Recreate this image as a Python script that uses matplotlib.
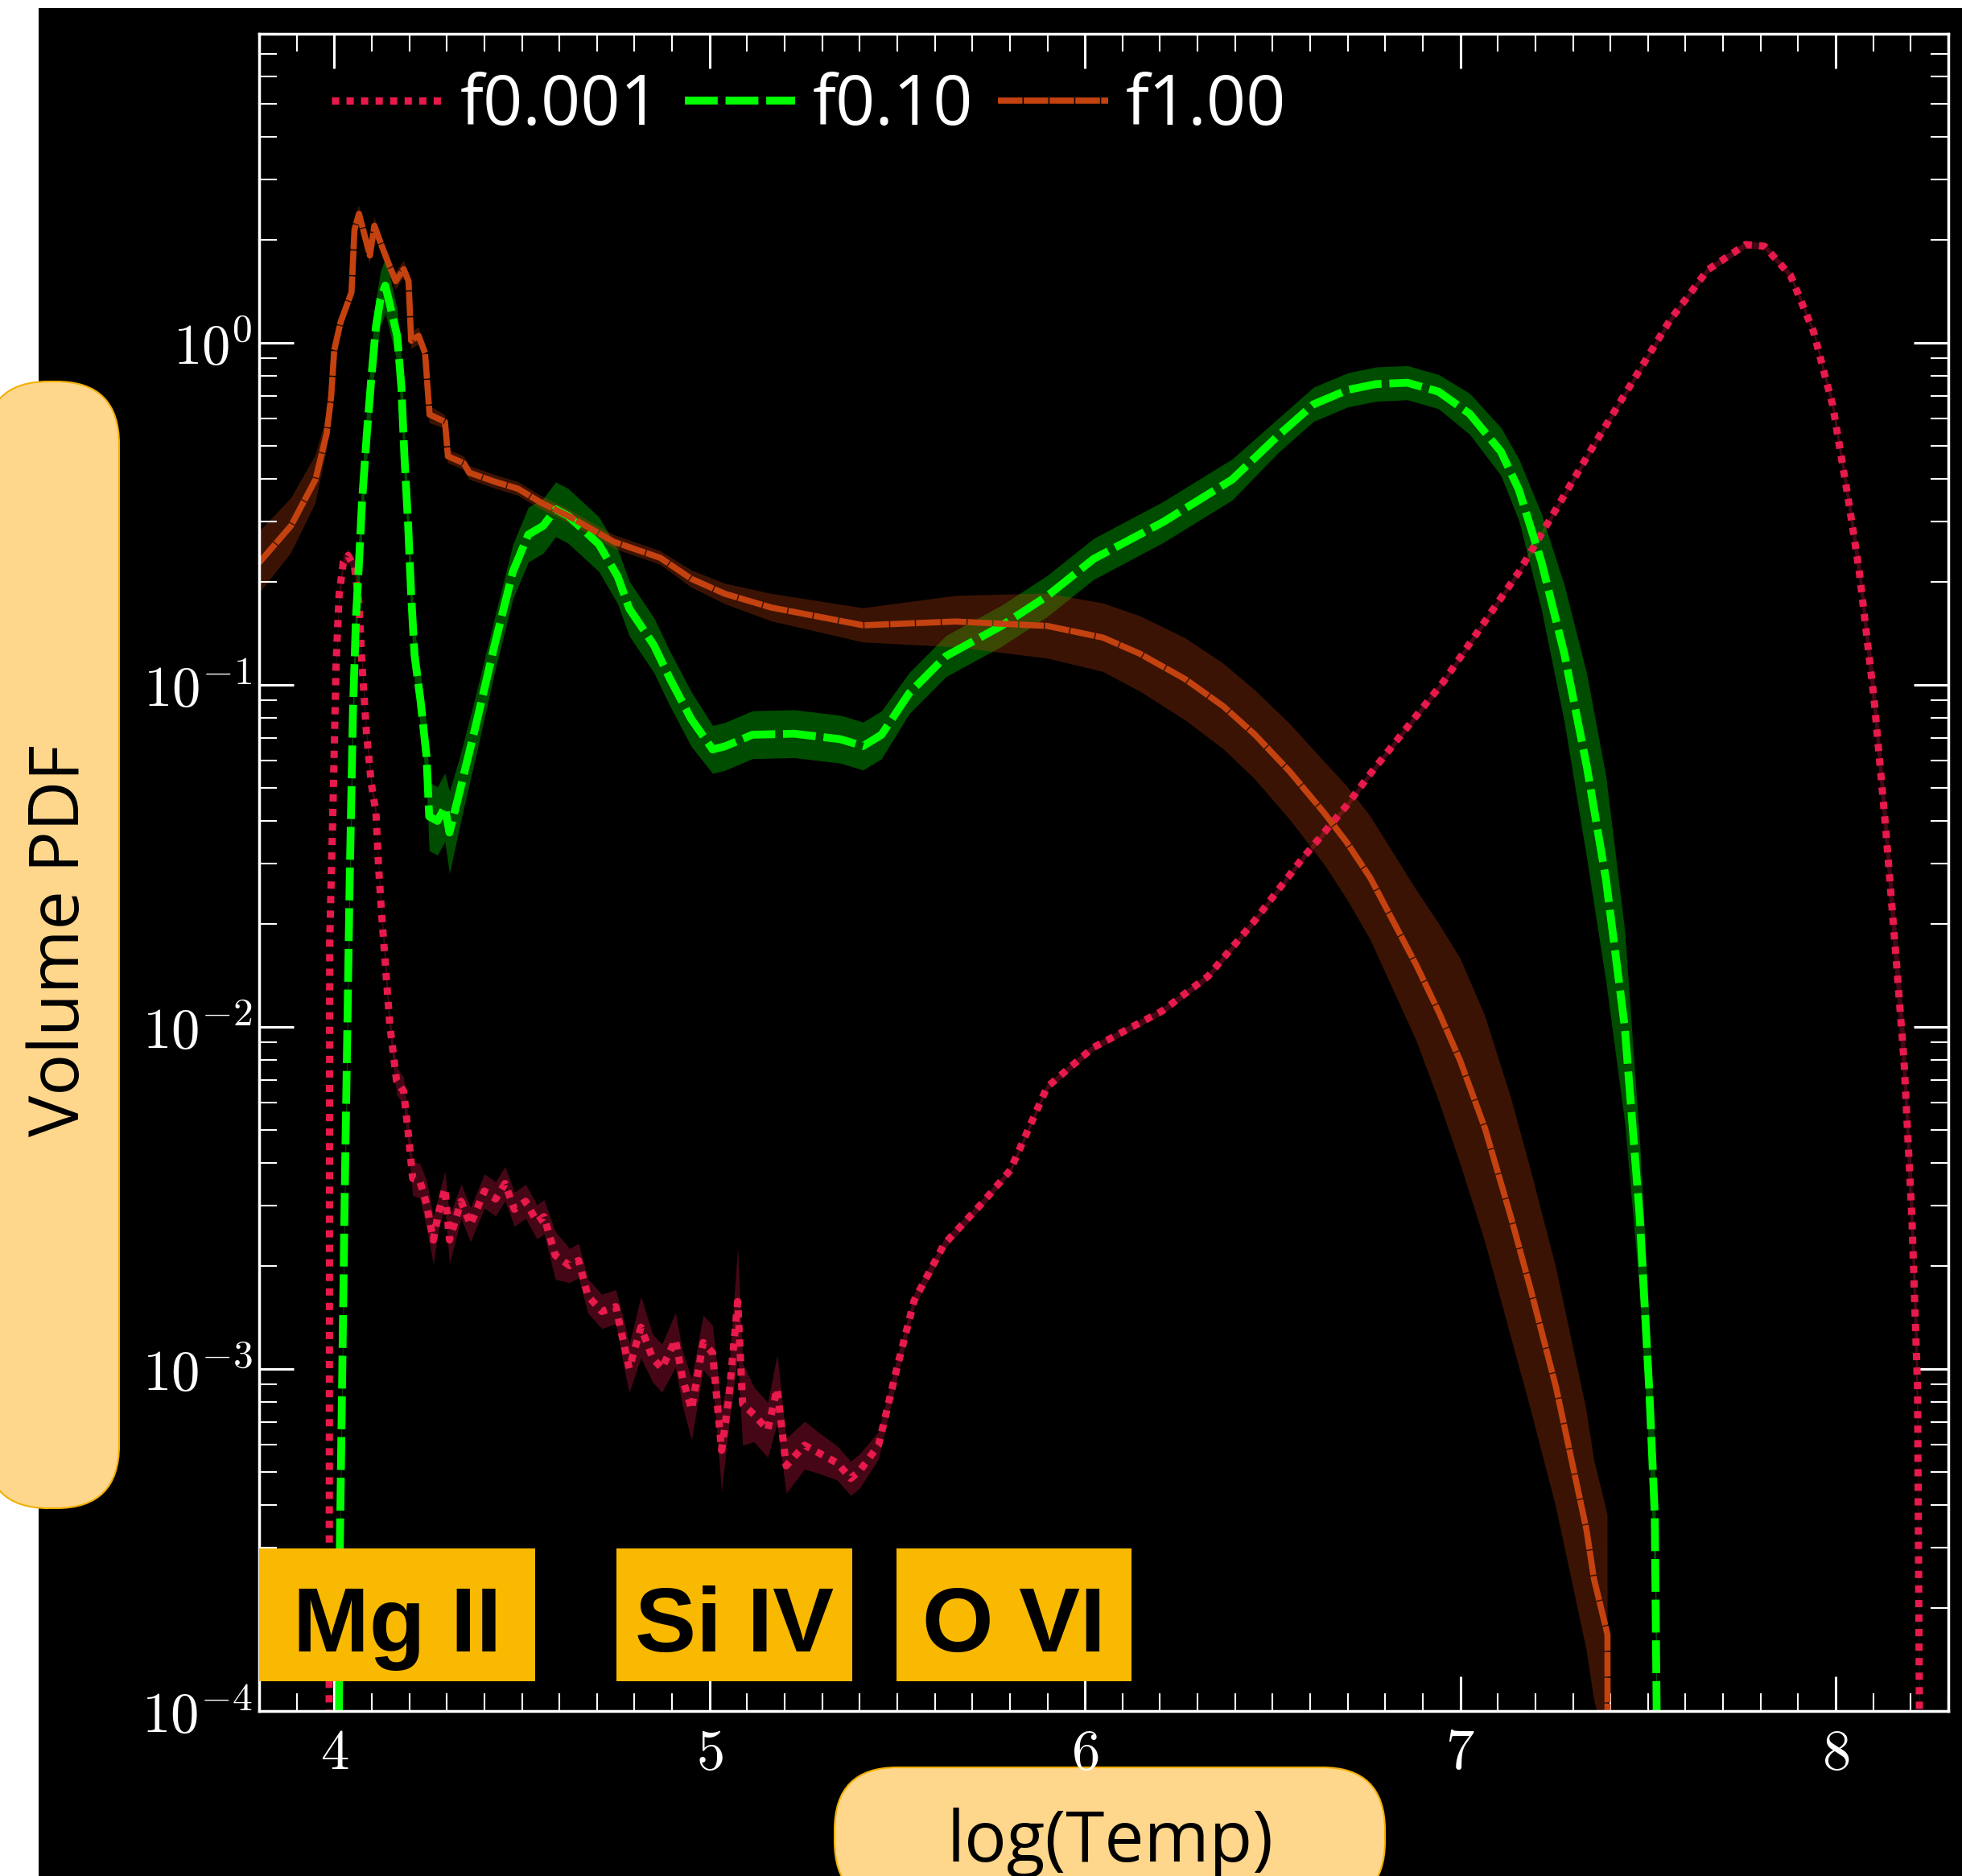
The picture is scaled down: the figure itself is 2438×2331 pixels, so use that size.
import numpy as np
import matplotlib
matplotlib.use("Agg")
import matplotlib.pyplot as plt
from matplotlib.patches import Rectangle, FancyBboxPatch
from matplotlib.ticker import MultipleLocator, LogLocator, FuncFormatter, NullFormatter

plt.rcParams["mathtext.fontset"] = "cm"

# log10(T), log10(volume PDF) and half-width of the spread band (dex) per run
logT_f0001 = [
    3.986, 3.988, 3.997, 4.005, 4.013, 4.024, 4.037, 4.054, 4.066, 4.074,
    4.086, 4.099, 4.111, 4.119, 4.125, 4.136, 4.148, 4.166, 4.185, 4.197,
    4.209, 4.228, 4.246, 4.264, 4.277, 4.295, 4.307, 4.338, 4.363, 4.400,
    4.430, 4.455, 4.480, 4.510, 4.540, 4.559, 4.589, 4.627, 4.651, 4.676,
    4.713, 4.750, 4.774, 4.786, 4.817, 4.848, 4.873, 4.909, 4.928, 4.952,
    4.983, 5.008, 5.032, 5.051, 5.075, 5.088, 5.118, 5.155, 5.180, 5.204,
    5.253, 5.290, 5.340, 5.376, 5.400, 5.450, 5.499, 5.545, 5.625, 5.727,
    5.801, 5.899, 6.021, 6.205, 6.328, 6.451, 6.574, 6.697, 6.760, 6.955,
    7.156, 7.356, 7.558, 7.659, 7.760, 7.810, 7.880, 7.941, 7.992, 8.032,
    8.062, 8.102, 8.132, 8.162, 8.182, 8.203, 8.218, 8.223, 8.224,
]
logpdf_f0001 = [
    -5.0, -1.75, -1.344, -0.94, -0.737, -0.643, -0.622, -0.656, -0.763, -0.94,
    -1.142, -1.29, -1.371, -1.546, -1.65, -1.813, -1.993, -2.157, -2.188, -2.308,
    -2.443, -2.45, -2.518, -2.623, -2.548, -2.472, -2.623, -2.51, -2.578, -2.48,
    -2.503, -2.458, -2.533, -2.51, -2.57, -2.555, -2.668, -2.698, -2.683, -2.787,
    -2.832, -2.818, -2.938, -2.998, -2.878, -2.968, -2.998, -2.915, -3.028, -3.118,
    -2.923, -2.953, -3.238, -3.088, -2.803, -3.103, -3.133, -3.178, -3.058, -3.283,
    -3.223, -3.245, -3.275, -3.32, -3.298, -3.223, -2.998, -2.8, -2.635, -2.514,
    -2.419, -2.176, -2.061, -1.954, -1.852, -1.691, -1.515, -1.353, -1.26, -0.991,
    -0.67, -0.299, 0.065, 0.213, 0.287, 0.282, 0.196, 0.032, -0.183, -0.447,
    -0.662, -1.04, -1.404, -1.816, -2.1, -2.557, -3.054, -4.0, -5.0,
]
err_f0001 = [
    0.02, 0.02, 0.02, 0.02, 0.02, 0.02, 0.02, 0.02, 0.02, 0.02,
    0.02, 0.02, 0.02, 0.02, 0.02, 0.03, 0.03, 0.04, 0.04, 0.04,
    0.05, 0.05, 0.07, 0.07, 0.05, 0.05, 0.07, 0.05, 0.05, 0.05,
    0.05, 0.05, 0.05, 0.05, 0.05, 0.05, 0.07, 0.05, 0.05, 0.05,
    0.05, 0.05, 0.07, 0.07, 0.09, 0.07, 0.07, 0.08, 0.08, 0.09,
    0.08, 0.08, 0.12, 0.08, 0.16, 0.12, 0.08, 0.08, 0.10, 0.08,
    0.07, 0.06, 0.05, 0.05, 0.05, 0.04, 0.03, 0.02, 0.015, 0.012,
    0.01, 0.01, 0.01, 0.01, 0.01, 0.01, 0.01, 0.01, 0.01, 0.01,
    0.01, 0.01, 0.01, 0.01, 0.01, 0.01, 0.01, 0.01, 0.02, 0.03,
    0.04, 0.06, 0.07, 0.09, 0.10, 0.12, 0.15, 0.15, 0.15,
]

logT_f010 = [
    4.008, 4.015, 4.028, 4.041, 4.050, 4.058, 4.066, 4.074, 4.087, 4.099,
    4.111, 4.123, 4.136, 4.148, 4.168, 4.179, 4.187, 4.197, 4.205, 4.214,
    4.230, 4.246, 4.253, 4.275, 4.295, 4.307, 4.336, 4.378, 4.427, 4.476,
    4.517, 4.557, 4.590, 4.623, 4.705, 4.755, 4.786, 4.852, 4.893, 4.951,
    5.008, 5.041, 5.114, 5.225, 5.348, 5.409, 5.458, 5.532, 5.630, 5.777,
    5.900, 6.023, 6.207, 6.392, 6.516, 6.609, 6.700, 6.775, 6.859, 6.942,
    7.025, 7.108, 7.156, 7.216, 7.277, 7.337, 7.388, 7.438, 7.478, 7.503,
    7.518, 7.523, 7.524,
]
logpdf_f010 = [
    -5.0, -3.52, -2.49, -1.587, -1.075, -0.804, -0.643, -0.467, -0.265, -0.102,
    0.046, 0.127, 0.167, 0.113, 0.019, -0.13, -0.332, -0.534, -0.737, -0.913,
    -1.047, -1.21, -1.385, -1.398, -1.358, -1.432, -1.304, -1.115, -0.885, -0.669,
    -0.561, -0.535, -0.487, -0.506, -0.589, -0.683, -0.777, -0.885, -0.979, -1.10,
    -1.189, -1.18, -1.146, -1.143, -1.159, -1.179, -1.146, -1.024, -0.916, -0.828,
    -0.74, -0.632, -0.525, -0.40, -0.27, -0.18, -0.138, -0.121, -0.117, -0.143,
    -0.208, -0.318, -0.43, -0.64, -0.909, -1.239, -1.569, -2.0, -2.557, -3.054,
    -3.427, -4.0, -5.0,
]
err_f010 = [
    0.08, 0.08, 0.08, 0.08, 0.08, 0.08, 0.08, 0.08, 0.08, 0.08,
    0.08, 0.08, 0.08, 0.08, 0.08, 0.08, 0.08, 0.08, 0.08, 0.08,
    0.08, 0.09, 0.10, 0.10, 0.10, 0.12, 0.10, 0.09, 0.08, 0.08,
    0.08, 0.08, 0.08, 0.08, 0.08, 0.08, 0.08, 0.08, 0.08, 0.08,
    0.07, 0.07, 0.07, 0.07, 0.07, 0.07, 0.07, 0.06, 0.06, 0.06,
    0.06, 0.06, 0.06, 0.06, 0.05, 0.05, 0.05, 0.05, 0.05, 0.05,
    0.06, 0.07, 0.09, 0.14, 0.20, 0.27, 0.30, 0.28, 0.22, 0.20,
    0.20, 0.20, 0.20,
]

logT_f100 = [
    3.800, 3.885, 3.950, 3.980, 3.992, 4.000, 4.017, 4.046, 4.054, 4.066,
    4.095, 4.107, 4.127, 4.148, 4.164, 4.185, 4.198, 4.205, 4.225, 4.242,
    4.254, 4.295, 4.303, 4.345, 4.360, 4.427, 4.490, 4.550, 4.623, 4.745,
    4.869, 4.951, 5.041, 5.164, 5.409, 5.655, 5.900, 6.048, 6.146, 6.268,
    6.370, 6.453, 6.545, 6.637, 6.697, 6.760, 6.883, 6.944, 7.000, 7.066,
    7.135, 7.188, 7.255, 7.336, 7.356, 7.392, 7.393,
]
logpdf_f100 = [
    -0.643, -0.535, -0.40, -0.265, -0.156, -0.022, 0.06, 0.147, 0.33, 0.377,
    0.255, 0.342, 0.282, 0.222, 0.18, 0.215, 0.18, 0.006, 0.02, -0.03,
    -0.21, -0.231, -0.332, -0.352, -0.38, -0.406, -0.427, -0.467, -0.506, -0.582,
    -0.629, -0.69, -0.734, -0.774, -0.826, -0.815, -0.828, -0.862, -0.909, -0.984,
    -1.064, -1.146, -1.253, -1.374, -1.46, -1.564, -1.82, -1.96, -2.10, -2.298,
    -2.557, -2.77, -3.054, -3.47, -3.614, -3.776, -5.0,
]
err_f100 = [
    0.09, 0.08, 0.07, 0.05, 0.03, 0.025, 0.025, 0.025, 0.025, 0.025,
    0.025, 0.025, 0.025, 0.025, 0.025, 0.025, 0.025, 0.025, 0.025, 0.025,
    0.025, 0.02, 0.02, 0.02, 0.02, 0.02, 0.02, 0.02, 0.02, 0.02,
    0.02, 0.025, 0.03, 0.04, 0.05, 0.075, 0.095, 0.10, 0.11, 0.12,
    0.125, 0.13, 0.14, 0.15, 0.165, 0.18, 0.22, 0.26, 0.30, 0.33,
    0.35, 0.35, 0.35, 0.35, 0.35, 0.35, 0.35,
]

# ion temperature windows
ion_names = ["Mg II", "Si IV", "O VI"]
ion_lo = [3.800, 4.752, 5.497]
ion_hi = [4.536, 5.379, 6.123]

runs = [
    ("f0.001", logT_f0001, logpdf_f0001, err_f0001, "#e8194b", (0, (1, 1))),
    ("f0.10", logT_f010, logpdf_f010, err_f010, "#00ff00", (0, (4.2, 1.0))),
    ("f1.00", logT_f100, logpdf_f100, err_f100, "#c4420f", (0, (4, 0.2))),
]
line_widths = [6.5, 7, 5.5]

W, H, DPI = 2438, 2331, 100
fig = plt.figure(figsize=(W / DPI, H / DPI), dpi=DPI, facecolor="white")

# black canvas behind everything, leaving thin white margins top and left
fig.add_artist(Rectangle((48 / W, 0), 1, 1 - 10 / H, transform=fig.transFigure,
                         facecolor="black", edgecolor="none", zorder=-3))

ax = fig.add_axes([322 / W, 1 - 2126 / H, 2099 / W, 2084 / H])
ax.set_facecolor("black")

for (name, t, lp, err, color, ls), lw in zip(runs, line_widths):
    t = np.array(t)
    lp = np.array(lp)
    err = np.array(err)
    ax.fill_between(t, 10 ** (lp - err), 10 ** (lp + err), color=color,
                    alpha=0.3, linewidth=0)
    ax.plot(t, 10 ** lp, color=color, linestyle=ls, linewidth=lw, label=name)

ax.set_yscale("log")
ax.set_xlim(3.8, 8.3)
ax.set_ylim(1e-4, 8)

# ion boxes along the bottom
box_bottom, box_top, text_base = 1.22e-4, 2.99e-4, 1.49e-4
for name, lo, hi in zip(ion_names, ion_lo, ion_hi):
    ax.add_patch(Rectangle((lo, box_bottom), hi - lo, box_top - box_bottom,
                           facecolor="#f8b900", edgecolor="none", zorder=5))
    ax.text((lo + hi) / 2, text_base, name, ha="center", va="baseline",
            fontsize=82, fontweight="bold", family="Liberation Sans",
            color="black", zorder=6)

ax.xaxis.set_major_locator(MultipleLocator(1))
ax.xaxis.set_minor_locator(MultipleLocator(0.1))
ax.yaxis.set_major_locator(LogLocator(base=10, numticks=20))
ax.yaxis.set_minor_locator(LogLocator(base=10, subs=np.arange(2, 10), numticks=20))
ax.yaxis.set_minor_formatter(NullFormatter())
ax.xaxis.set_major_formatter(FuncFormatter(lambda v, p: r"$%d$" % round(v)))
ax.yaxis.set_major_formatter(FuncFormatter(lambda v, p: r"$10^{%d}$" % round(np.log10(v))))

ax.tick_params(which="both", direction="in", top=True, right=True,
               colors="white", labelcolor="white", labelsize=51)
ax.tick_params(which="major", length=31, width=2.2)
ax.tick_params(which="minor", length=16, width=1.5)
ax.tick_params(axis="x", which="major", pad=13)
ax.tick_params(axis="y", which="major", pad=6)
for sp in ax.spines.values():
    sp.set_color("white")
    sp.set_linewidth(2.5)

leg = ax.legend(loc="upper left", bbox_to_anchor=(0.043, 0.977), ncol=3,
                frameon=False, borderpad=0, borderaxespad=0,
                handlelength=1.6, handletextpad=0.25, columnspacing=0.35,
                prop={"family": "Open Sans", "size": 62})
for txt in leg.get_texts():
    txt.set_color("white")

# axis labels on rounded light-orange tags
ax.set_xlabel("log(Temp)", fontsize=63, family="Open Sans", color="black")
ax.xaxis.set_label_coords(0.5036, -0.0897)
ax.xaxis.label.set_va("baseline")
ax.set_ylabel("Volume PDF", fontsize=62, family="Open Sans", color="black")
ax.yaxis.set_label_coords(-0.1067, 0.4592)
ax.yaxis.label.set_va("baseline")

tag_style = dict(boxstyle="round,pad=0,rounding_size=0.78", facecolor="#fed68c",
                 edgecolor="#f2b000", linewidth=1.5,
                 transform=fig.dpi_scale_trans, zorder=-2)
fig.add_artist(FancyBboxPatch((-0.18, 4.57), 1.66, 14.0, **tag_style))
fig.add_artist(FancyBboxPatch((10.37, -0.35), 6.84, 1.70, **tag_style))

fig.savefig("out.png", dpi=DPI, facecolor=fig.get_facecolor())
